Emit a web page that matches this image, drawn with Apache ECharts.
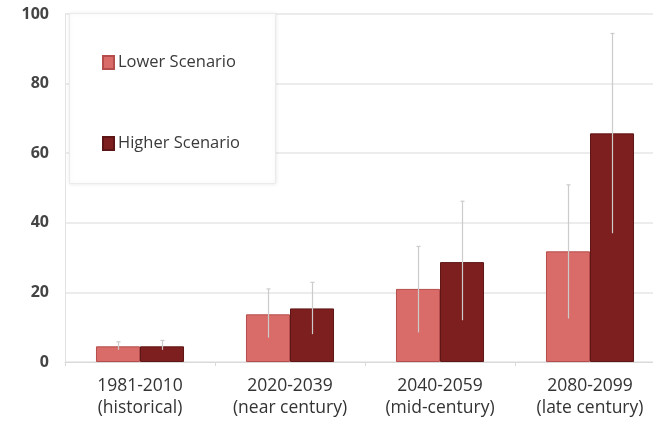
<!DOCTYPE html>
<html>
<head>
<meta charset="utf-8">
<script src="https://cdn.jsdelivr.net/npm/echarts@6/dist/echarts.min.js"></script>
<style>
html,body{margin:0;padding:0;background:#fff;overflow:hidden;}
#c{width:670px;height:426px;}
</style>
</head>
<body>
<div id="c"></div>
<script>
var categories = ['1981-2010\n(historical)', '2020-2039\n(near century)', '2040-2059\n(mid-century)', '2080-2099\n(late century)'];
var lowerValues = [4.5, 13.7, 21.0, 31.8];
var higherValues = [4.5, 15.4, 28.7, 65.7];
var lowerErrLow = [3.5, 7.0, 8.5, 12.5];
var lowerErrHigh = [5.8, 21.0, 33.2, 50.9];
var higherErrLow = [3.5, 8.0, 12.0, 37.0];
var higherErrHigh = [6.2, 22.9, 46.2, 94.4];
var yTicks = [0, 20, 40, 60, 80, 100];

var chart = echarts.init(document.getElementById('c'), null, {renderer: 'canvas'});
var CAT_GAP = 0.413;
function errData(lo, hi) {
  return categories.map(function (c, i) { return [i, lo[i], hi[i]]; });
}
function makeErr(sign) {
  return function (params, api) {
    var idx = api.value(0);
    var band = api.size([1, 0])[0];
    var barW = band * (1 - CAT_GAP) / 2;
    var lo = api.coord([idx, api.value(1)]);
    var hi = api.coord([idx, api.value(2)]);
    var x = Math.round(lo[0] + sign * barW / 2) + 0.5;
    var style = {stroke: '#cdcaca', lineWidth: 1.2};
    return {
      type: 'group',
      children: [
        {type: 'line', shape: {x1: x, y1: lo[1], x2: x, y2: hi[1]}, style: style},
        {type: 'line', shape: {x1: x - 2, y1: hi[1], x2: x + 2, y2: hi[1]}, style: style}
      ]
    };
  };
}
var font = "'Open Sans', 'Liberation Sans', sans-serif";
chart.setOption({
  animation: false,
  backgroundColor: '#ffffff',
  grid: {left: 65, top: 14, width: 600, bottom: 64, containLabel: false},
  graphic: [{
    type: 'rect',
    left: 69, top: 13,
    shape: {width: 206, height: 170},
    style: {fill: '#ffffff', stroke: '#ebebeb', lineWidth: 1, shadowBlur: 4, shadowColor: 'rgba(0,0,0,0.08)'},
    z: 10
  }],
  legend: {
    orient: 'vertical',
    left: 97, top: 49,
    itemWidth: 11, itemHeight: 13,
    itemGap: 64,
    z: 11,
    icon: 'rect',
    textStyle: {fontFamily: font, fontSize: 16.5, color: '#3a3a3a', padding: [0, 0, 0, -1]},
    data: ['Lower Scenario', 'Higher Scenario']
  },
  xAxis: {
    type: 'category',
    data: categories,
    axisLine: {show: true, lineStyle: {color: '#d9d9d9'}},
    axisTick: {show: true, alignWithLabel: false, length: 4, lineStyle: {color: '#d9d9d9'}},
    axisLabel: {fontFamily: font, fontSize: 17.5, color: '#333', lineHeight: 22, margin: 13}
  },
  yAxis: {
    type: 'value',
    min: 0, max: 100, interval: 20,
    axisLine: {show: true, lineStyle: {color: '#e3e3e3'}},
    axisTick: {show: false},
    splitLine: {lineStyle: {color: '#e6e6e6', width: 1.5}},
    axisLabel: {fontFamily: font, fontSize: 16, fontWeight: 'bold', color: '#444', margin: 16,
      formatter: function (v) { return yTicks.indexOf(v) >= 0 ? String(v) : ''; }}
  },
  series: [
    {
      name: 'Lower Scenario', type: 'bar', data: lowerValues,
      barGap: '0%', barCategoryGap: (CAT_GAP * 100) + '%',
      itemStyle: {color: '#d96c69', borderColor: '#b44d4b', borderWidth: 1}
    },
    {
      name: 'Higher Scenario', type: 'bar', data: higherValues,
      barGap: '0%', barCategoryGap: (CAT_GAP * 100) + '%',
      itemStyle: {color: '#7e1f1f', borderColor: '#5e1515', borderWidth: 1}
    },
    {
      type: 'custom', renderItem: makeErr(-1), data: errData(lowerErrLow, lowerErrHigh),
      z: 5, silent: true, encode: {x: 0, y: [1, 2]}
    },
    {
      type: 'custom', renderItem: makeErr(1), data: errData(higherErrLow, higherErrHigh),
      z: 5, silent: true, encode: {x: 0, y: [1, 2]}
    }
  ]
});
</script>
</body>
</html>
